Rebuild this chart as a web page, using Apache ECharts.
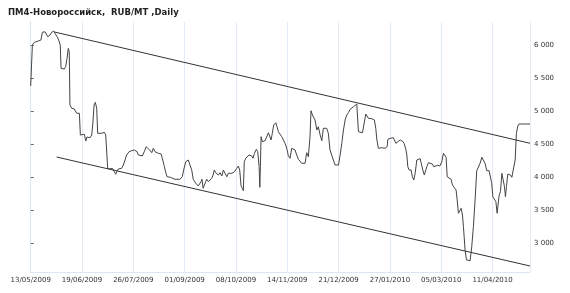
<!DOCTYPE html>
<html><head><meta charset="utf-8">
<script src="https://cdn.jsdelivr.net/npm/echarts@6/dist/echarts.min.js"></script>
<style>html,body{margin:0;padding:0;background:#fff}#c{width:570px;height:293px}</style>
</head><body><div id="c"></div>
<script>
var chartTitle = 'ПМ4-Новороссийск,  RUB/MT ,Daily';
var startDate = '2009-05-13';
var days = [0,1.2,2.6,5.5,7.4,8.4,10.3,11.5,12.3,13.2,13.9,15.1,16.6,17.5,18.8,19.5,20.4,21.3,21.9,22.8,24.2,25.2,26.2,27.1,27.8,28.3,29.6,31.4,33.2,34.3,35.1,35.8,37.2,38.7,39.7,40.6,41.5,42.8,44,44.9,45.7,46.6,47.6,48.3,49.3,51.2,53.1,54.1,55.5,57.2,58.9,60.3,61.3,62,63.2,64.4,65.6,66.8,68,69.2,70.9,72.8,74.7,75.9,76.7,77.6,79,80.5,81.9,83.2,84.4,85.8,87.3,88.4,89.6,90.9,92,94,94.9,96.4,97.4,98.3,99.7,100.7,101.7,104,107.6,109.3,110.3,111.8,113.6,114.9,116.1,117.2,119,120.8,122.1,122.8,123.5,124.3,125.2,126.2,126.9,128.1,129.3,130.5,131.5,132.4,133.4,134.4,135.3,136.5,137.8,138.9,140.1,141.4,142.5,144.9,146.8,148.6,149.7,150.7,151.7,152.6,153.3,154,155.1,156.5,157.4,158.4,159.4,160.3,161.3,162.7,163.7,164.7,165.2,165.6,166.1,167,169,170.4,171.4,172.4,173.3,174.2,175.2,176.7,177.6,178.6,179.8,181,182.2,183.4,184.6,185.8,187,188.2,189.4,190.6,191.8,193,194.2,195.4,196.6,197.8,199,200.2,201.4,202.1,203.1,204.1,205,206.3,207.4,208.7,209.9,211,212.2,213.4,214.6,215.8,217.1,218.2,219.5,221.9,223.1,224.3,225.5,226.7,227.9,229.1,230.3,231.5,232.7,233.9,235.1,235.8,236.3,237.5,239.2,240.6,241.6,242.6,243.5,246,247.8,248.8,249.6,250.7,253.2,255.5,257,257.5,259.1,261.5,262.7,263.3,264.7,266.4,268,269.2,270.5,271.2,271.9,272.8,274.3,275.2,276.2,277.2,278.4,279.5,280.8,282,282.7,283.8,284.8,285.6,286.8,288.2,289.6,290.6,291.6,293.5,295,296.4,297.6,298.8,299.5,300.3,301.2,303.1,304.1,305.5,306.7,307.5,308.4,309.4,310.3,311.3,312,313.2,314.2,315.6,316.8,318,319.2,320.4,321.6,322.8,324,325.3,326.4,327.6,328.8,330.5,331.9,332.4,333.2,334.4,335.4,336.3,336.8,337.8,338.7,339.7,340.8,341.6,342.3,343,344,344.9,345.9,346.9,348.3,349.3,350.2,351.2,352.1,355.2,360];
var prices = [5380,6000,6041,6061,6076,6192,6201,6192,6126,6110,6151,6192,6212,6177,6151,6110,6061,6000,5647,5622,5637,5672,5799,5950,5899,5092,5042,5032,4967,4991,4967,4638,4623,4649,4547,4608,4578,4597,4638,4840,5092,5133,5042,4664,4638,4664,4679,4638,4134,4124,4134,4083,4044,4083,4124,4109,4134,4184,4260,4336,4386,4401,4411,4437,4386,4336,4310,4321,4386,4461,4437,4411,4371,4437,4386,4401,4361,4351,4286,4159,4068,4007,4018,3998,3977,3968,3968,4007,4109,4234,4260,4234,4109,3968,3908,3867,3867,3932,3968,3832,3806,3932,3968,3932,3957,3983,4033,4109,4068,4048,4033,4068,4018,4109,4059,4007,4059,4059,4079,4134,4169,4109,3867,3832,3796,4234,4286,4301,4336,4310,4321,4286,4361,4422,4386,4159,3847,4159,4613,4537,4552,4563,4673,4688,4563,4664,4790,4824,4764,4688,4664,4613,4563,4513,4437,4321,4286,4437,4411,4411,4336,4271,4286,4210,4200,4210,4371,4310,4613,5006,4941,4926,4865,4714,4764,4638,4552,4740,4764,4740,4664,4411,4386,4260,4184,4184,4336,4513,4714,4865,4941,4976,5027,5042,5066,5092,5107,5107,4688,4673,4673,4688,4956,4976,4891,4885,4865,4740,4563,4437,4446,4437,4461,4573,4588,4597,4588,4513,4537,4563,4547,4513,4422,4336,4159,4109,4109,4007,3957,4059,4260,4271,4280,4271,4109,4033,4007,4159,4219,4230,4200,4159,4169,4180,4169,4234,4361,4371,4301,4007,3983,3968,3882,3856,3806,3655,3454,3428,3529,3428,3251,2898,2747,2727,2737,2948,3251,3655,4098,4119,4210,4301,4271,4210,4098,4098,4098,3907,3705,3690,3629,3454,3553,3730,3780,4059,4068,3856,3705,3856,4048,4068,4033,3998,3998,4260,4664,4774,4805,4805,4805];
var upperTrend = [[17.2, 6197], [360, 4513]];
var lowerTrend = [[18.7, 4305], [360, 2656]];
var yTicks = [3000, 3500, 4000, 4500, 5000, 5500, 6000];

var base = Date.UTC(2009, 4, 13);
function fmtDate(v) {
  var d = new Date(base + Math.round(v) * 86400000);
  var dd = ('0' + d.getUTCDate()).slice(-2), mm = ('0' + (d.getUTCMonth() + 1)).slice(-2);
  return dd + '/' + mm + '/' + d.getUTCFullYear();
}
var seriesData = days.map(function (d, i) { return [d, prices[i]]; });

var chart = echarts.init(document.getElementById('c'), null, { renderer: 'canvas' });
chart.setOption({
  animation: false,
  backgroundColor: '#fff',
  title: {
    text: chartTitle, left: 3, top: 3,
    textStyle: { fontFamily: 'DejaVu Sans', fontWeight: 'bold', fontSize: 8.5, color: '#222' }
  },
  grid: { left: 30.7, right: 40, top: 21.7, bottom: 21, containLabel: false },
  xAxis: {
    type: 'value', min: 0, max: 360, interval: 37,
    axisLine: { show: true, lineStyle: { color: '#dce6f1', width: 1 } },
    axisTick: { show: false },
    splitLine: { show: true, lineStyle: { color: '#e3ecf6', width: 1 } },
    axisLabel: {
      showMaxLabel: false, margin: 5,
      fontFamily: 'DejaVu Sans', fontSize: 7, color: '#333',
      formatter: function (v) { return fmtDate(v); }
    }
  },
  yAxis: {
    type: 'value', position: 'right', min: 2565, max: 6353,
    axisLine: { show: true, lineStyle: { color: '#dce6f1', width: 1 } },
    axisTick: { show: true, length: 3, customValues: yTicks, lineStyle: { color: '#666' } },
    splitLine: { show: false },
    axisLabel: {
      customValues: yTicks, margin: 4,
      fontFamily: 'DejaVu Sans', fontSize: 7, color: '#333',
      formatter: function (v) { return String(v).replace(/\B(?=(\d{3})+(?!\d))/g, ' '); }
    }
  },
  series: [
    { type: 'line', data: seriesData, symbol: 'none', lineStyle: { color: '#444', width: 1 } },
    { type: 'line', data: upperTrend, symbol: 'none', lineStyle: { color: '#333', width: 1 } },
    { type: 'line', data: lowerTrend, symbol: 'none', lineStyle: { color: '#333', width: 1 } }
  ]
});
</script>
</body></html>
